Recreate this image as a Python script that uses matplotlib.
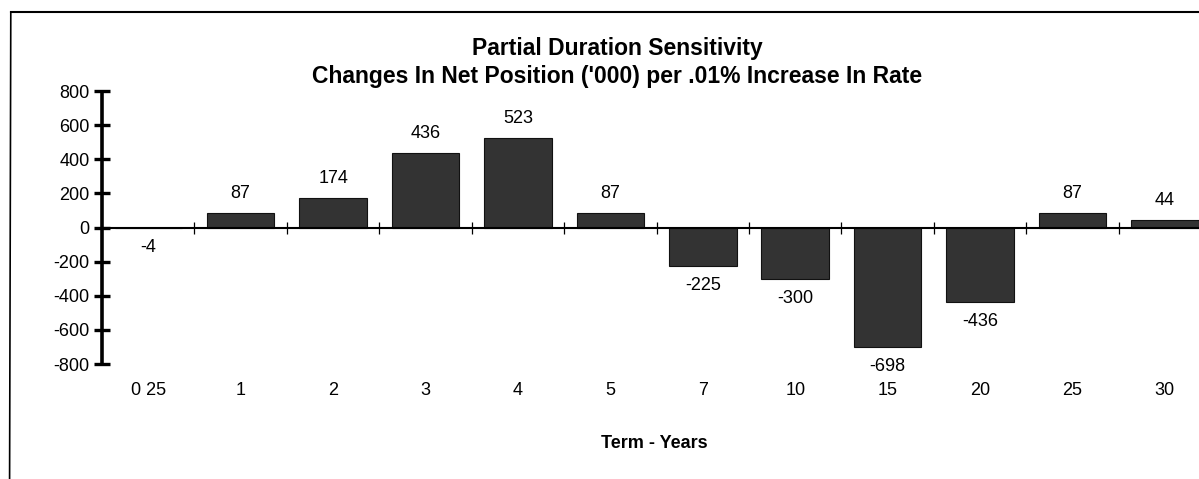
import matplotlib

matplotlib.use("Agg")
import matplotlib.pyplot as plt
import numpy as np
from matplotlib.lines import Line2D

terms = ["0 25", "1", "2", "3", "4", "5", "7", "10", "15", "20", "25", "30"]
changes = [-4, 87, 174, 436, 523, 87, -225, -300, -698, -436, 87, 44]
y_ticks = [-800, -600, -400, -200, 0, 200, 400, 600, 800]

plt.rcParams["font.family"] = ["Liberation Sans", "DejaVu Sans"]
plt.rcParams["axes.unicode_minus"] = False

fig = plt.figure(figsize=(11.99, 4.79), dpi=100)
ax = fig.add_axes([0.0851, 0.240, 0.925, 0.570])

pos = np.arange(len(terms))
bars = ax.bar(pos, changes, width=0.73, color="#333333",
              edgecolor="#111111", linewidth=0.8, zorder=2)
ax.bar_label(bars, fmt="{:.0f}", padding=8, fontsize=13)

ax.set_xlim(-0.5, len(terms) - 0.5)
ax.set_ylim(-800, 800)
ax.set_yticks(y_ticks)

# y axis: heavy spine with crossing ticks
ax.spines["left"].set_linewidth(2.6)
ax.spines["left"].set_capstyle("butt")
ax.tick_params(axis="y", direction="inout", length=12, width=2.4,
               labelsize=13, pad=3)

# category axis sits on zero, with boundary ticks
ax.spines["bottom"].set_position(("data", 0))
ax.spines["bottom"].set_linewidth(1.5)
ax.spines["bottom"].set_zorder(3)
ax.set_xticks(pos[:-1] + 0.5)
ax.tick_params(axis="x", direction="inout", length=8, width=0.9,
               labelbottom=False)
for side in ("top", "right"):
    ax.spines[side].set_visible(False)

# category labels at the bottom of the plot area
sec = ax.secondary_xaxis(0)
sec.set_xticks(pos, terms)
sec.tick_params(length=0, pad=13, labelsize=13)
sec.spines["bottom"].set_visible(False)

fig.text(0.546, 0.075, "Term - Years", ha="center", va="center",
         fontsize=13, fontweight="bold")

fig.text(0.515, 0.898, "Partial Duration Sensitivity",
         ha="center", va="center", fontsize=16.5, fontweight="bold")
fig.text(0.515, 0.840, "Changes In Net Position ('000) per .01% Increase In Rate",
         ha="center", va="center", fontsize=16.5, fontweight="bold")

# scanned page frame
fig.add_artist(Line2D([0.009, 1.0], [0.975, 0.975], color="black", lw=1.5))
fig.add_artist(Line2D([0.009, 0.008], [0.975, 0.0], color="black", lw=1.2))

fig.savefig("out.png", dpi=100)
